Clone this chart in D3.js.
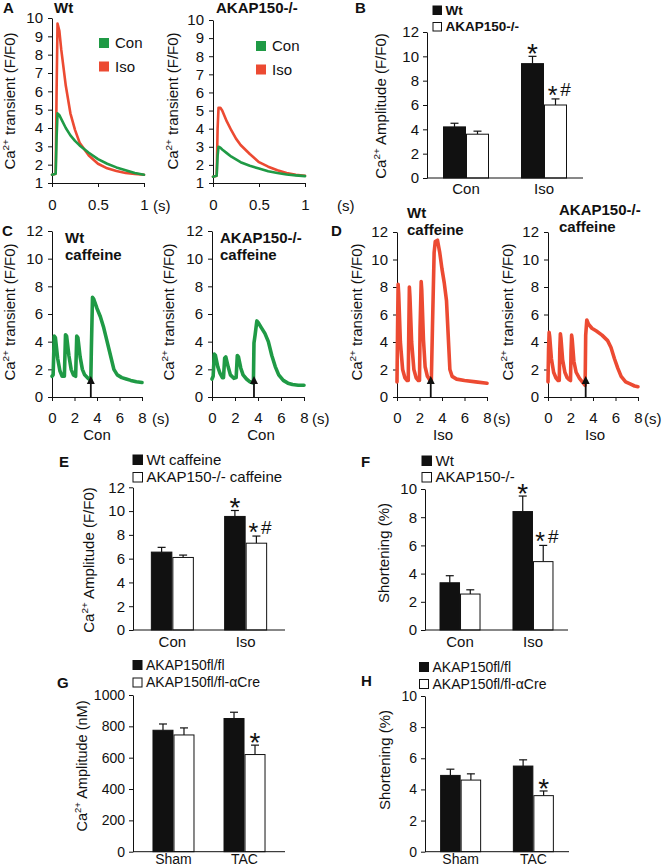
<!DOCTYPE html>
<html><head><meta charset="utf-8">
<script src="https://cdn.jsdelivr.net/npm/d3@7"></script>
<style>body{margin:0;background:#fff} text{font-family:"Liberation Sans",Arial,Helvetica,sans-serif;fill:#111}</style>
</head><body><svg id="c" width="663" height="868"></svg>
<script>
// ---------- DATA ----------
// Panel A: averaged Ca2+ transients (time in s, F/F0)
const aTime    = [0,0.04,0.05,0.06,0.08,0.1,0.15,0.2,0.25,0.3,0.4,0.5,0.6,0.7,0.8,0.9,1.0];
const aWtCon   = [1.45,1.5,3.5,4.8,4.7,4.5,4.0,3.6,3.3,3.05,2.65,2.3,2.05,1.85,1.7,1.55,1.45];
const aWtIso   = [1.45,1.5,6.0,9.7,9.3,8.3,6.3,4.8,3.9,3.2,2.5,2.05,1.8,1.65,1.55,1.5,1.45];
const aKoCon   = [1.35,1.4,2.5,3.0,2.95,2.85,2.65,2.45,2.3,2.15,1.95,1.8,1.65,1.55,1.47,1.42,1.38];
const aKoIso   = [1.35,1.4,4.0,5.15,5.15,5.0,4.4,3.9,3.45,3.1,2.6,2.15,1.9,1.7,1.55,1.45,1.4];
const aTicksX  = [0,0.5,1];
const aTicksY  = [1,2,3,4,5,6,7,8,9,10];
const aLegend  = ["Con","Iso"];

// Panel B
const bCats = ["Con","Iso"];
const bWt   = [4.2,9.4];   const bWtErr = [0.3,0.6];
const bKo   = [3.6,6.0];   const bKoErr = [0.25,0.5];
const bLegend = ["Wt","AKAP150-/-"];

// Panel C (Con, caffeine)
const cWtT = [0,0.1,0.2,0.3,0.5,0.7,0.9,1.1,1.2,1.3,1.5,1.7,1.9,2.1,2.2,2.3,2.5,2.7,2.9,3.2,3.45,3.5,3.6,3.7,4.0,4.3,4.6,4.9,5.2,5.5,5.8,6.2,6.6,7.0,7.5,8.0];
const cWtV = [1.5,1.6,4.4,4.3,2.8,1.9,1.5,1.5,4.5,4.4,3.0,2.0,1.6,1.5,4.4,4.3,2.9,2.0,1.6,1.35,1.2,3.5,7.2,7.1,6.4,5.8,5.0,4.0,3.0,2.0,1.6,1.4,1.3,1.2,1.1,1.05];
const cKoT = [0,0.1,0.2,0.3,0.5,0.7,0.9,1.0,1.1,1.2,1.4,1.6,1.9,2.1,2.2,2.3,2.5,2.7,3.0,3.3,3.6,3.65,3.75,3.9,4.0,4.3,4.6,4.9,5.2,5.5,5.8,6.2,6.6,7.0,7.5,8.0];
const cKoV = [1.3,1.5,3.1,3.0,2.2,1.7,1.4,1.4,2.8,2.9,2.2,1.6,1.35,1.4,3.0,2.9,2.1,1.6,1.3,1.1,1.0,3.9,4.5,5.5,5.4,5.0,4.6,4.0,3.0,2.2,1.6,1.2,1.0,0.9,0.85,0.85];
const cArrow = [3.45,3.65];

// Panel D (Iso, caffeine)
const dWtT = [0,0.05,0.1,0.15,0.3,0.5,0.7,0.9,1.0,1.05,1.1,1.15,1.3,1.5,1.7,1.9,2.0,2.05,2.15,2.2,2.35,2.5,2.7,2.9,3.05,3.15,3.3,3.4,3.6,3.8,4.0,4.2,4.4,4.55,4.7,4.9,5.3,6.0,7.0,8.0];
const dWtV = [1.1,5.0,8.2,7.5,4.0,2.0,1.4,1.2,1.2,5.0,8.0,7.3,4.0,2.0,1.4,1.2,1.2,5.0,8.4,7.8,4.2,2.2,1.5,1.25,1.15,5.0,10.5,11.3,11.4,10.5,9.3,8.3,7.0,4.5,2.0,1.5,1.3,1.2,1.1,1.0];
const dKoT = [0,0.05,0.1,0.15,0.3,0.5,0.7,0.9,1.0,1.05,1.1,1.15,1.3,1.5,1.7,1.9,2.0,2.05,2.1,2.15,2.3,2.5,2.8,3.1,3.3,3.35,3.45,3.6,3.9,4.3,4.8,5.3,5.6,5.9,6.2,6.5,6.9,7.3,7.7,8.0];
const dKoV = [1.1,3.5,4.7,4.4,2.8,1.8,1.4,1.2,1.2,3.5,4.6,4.3,2.7,1.8,1.4,1.25,1.2,3.4,4.5,4.2,2.6,1.8,1.35,1.05,0.85,4.5,5.6,5.3,5.0,4.8,4.5,4.1,3.6,2.8,2.1,1.5,1.1,0.95,0.8,0.75];
const dArrow = [3.0,3.35];

const cdTicksX = [0,2,4,6,8];
const cdTicksY = [0,2,4,6,8,10,12];

// Panel E
const eCats = ["Con","Iso"];
const eWt = [6.55,9.55]; const eWtErr = [0.4,0.5];
const eKo = [6.1,7.3];   const eKoErr = [0.2,0.6];
const eLegend = ["Wt caffeine","AKAP150-/- caffeine"];

// Panel F
const fCats = ["Con","Iso"];
const fWt = [3.35,8.4]; const fWtErr = [0.5,1.1];
const fKo = [2.55,4.85]; const fKoErr = [0.3,1.15];
const fLegend = ["Wt","AKAP150-/-"];

// Panel G
const gCats = ["Sham","TAC"];
const gFl  = [775,850]; const gFlErr = [40,40];
const gCre = [745,620]; const gCreErr = [45,60];
const ghLegend = ["AKAP150fl/fl","AKAP150fl/fl-\u03b1Cre"];

// Panel H
const hCats = ["Sham","TAC"];
const hFl  = [4.9,5.5]; const hFlErr = [0.4,0.4];
const hCre = [4.6,3.6]; const hCreErr = [0.4,0.3];

// ---------- DRAWING ----------
const svg = d3.select("#c");
const GREEN = "#1f9a45", RED = "#ec4a32";

function txt(x, y, s, size, opts = {}) {
  return svg.append("text").attr("x", x).attr("y", y).attr("font-size", size)
    .attr("font-weight", opts.bold ? "bold" : null)
    .attr("text-anchor", opts.anchor || "start").text(s);
}
function yLabel(x, yc, pre, sup, post, size = 15) {
  const t = svg.append("text").attr("transform", `translate(${x},${yc}) rotate(-90)`)
    .attr("text-anchor", "middle").attr("font-size", size);
  t.append("tspan").text(pre);
  if (sup) {
    t.append("tspan").attr("font-size", size * 0.66).attr("dy", -size * 0.42).text(sup);
    t.append("tspan").attr("dy", size * 0.42).text(post);
  }
}
function styleAxis(g, size) {
  g.selectAll("path,line").attr("stroke", "#111").attr("stroke-width", 1);
  g.selectAll("text").attr("font-size", size).attr("fill", "#111")
    .attr("font-family", '"Liberation Sans",Arial,sans-serif');
}
function yAxis(y, x0, ticks, size = 15, pad = 5, fmt = d3.format("d")) {
  const g = svg.append("g").attr("transform", `translate(${x0},0)`)
    .call(d3.axisLeft(y).tickValues(ticks).tickSize(4).tickPadding(pad).tickFormat(fmt).tickSizeOuter(0));
  styleAxis(g, size);
  return g;
}
function xAxisTrace(x, yPix, ticks, pad, size, unitDx) {
  const g = svg.append("g").attr("transform", `translate(0,${yPix})`)
    .call(d3.axisBottom(x).tickValues(ticks).tickSize(4).tickPadding(pad).tickSizeOuter(0).tickFormat(d => String(d)));
  styleAxis(g, size);
  const last = ticks[ticks.length - 1];
  txt(x(last) + unitDx, yPix + pad + 4 + size * 0.78, "(s)", size);
}
function trace(x, y, T, V, color, w) {
  const line = d3.line().x((d, i) => x(T[i])).y(d => y(d)).curve(d3.curveLinear);
  svg.append("path").attr("d", line(V)).attr("fill", "none").attr("stroke", color)
    .attr("stroke-width", w).attr("stroke-linejoin", "round").attr("stroke-linecap", "round");
}
function arrow(x, y, t) {
  const xp = x(t), yb = y(0);
  svg.append("line").attr("x1", xp).attr("x2", xp).attr("y1", yb).attr("y2", yb - 16)
    .attr("stroke", "#111").attr("stroke-width", 1.8);
  svg.append("path").attr("d", `M${xp - 4},${yb - 13} L${xp},${yb - 21} L${xp + 4},${yb - 13} Z`).attr("fill", "#111");
}

// --- Panel A ---
txt(3, 13, "A", 15, { bold: true });
const aPanels = [
  { x0: 52, x1: 144, yTop: 18, con: aWtCon, iso: aWtIso, title: "Wt", tx: 54, lx: 99, ly: 38, unitDx: 9, ylx: 15 },
  { x0: 213, x1: 305, yTop: 20, con: aKoCon, iso: aKoIso, title: "AKAP150-/-", tx: 216, lx: 256, ly: 41, unitDx: 32, ylx: 178 }
];
aPanels.forEach(p => {
  const x = d3.scaleLinear().domain([0, 1]).range([p.x0, p.x1]);
  const y = d3.scaleLinear().domain([1, 10]).range([183, p.yTop]);
  yAxis(y, p.x0, aTicksY, 15, 5);
  xAxisTrace(x, 183, aTicksX, 12, 15, p.unitDx);
  trace(x, y, aTime, p.iso, RED, 2.6);
  trace(x, y, aTime, p.con, GREEN, 2.6);
  txt(p.tx, 13, p.title, 15, { bold: true });
  [GREEN, RED].forEach((c, i) => {
    svg.append("rect").attr("x", p.lx).attr("y", p.ly + i * 23.5).attr("width", 10).attr("height", 10).attr("fill", c);
    txt(p.lx + 16, p.ly + i * 23.5 + 10, aLegend[i], 15);
  });
  yLabel(p.ylx, 101, "Ca", "2+", " transient (F/F0)", 15);
});

// --- Bar helper ---
function bars(o) {
  const y = d3.scaleLinear().domain(o.ydom).range([o.yBase, o.yTop]);
  const x = d3.scalePoint().domain(o.cats).range([o.ax0, o.ax1]).padding(o.pad);
  yAxis(y, o.ax0, o.yticks, o.tsize, 4, o.fmt || d3.format("d"));
  const series = [{ v: o.s1, e: o.e1, fill: "#111", dx: -o.bw }, { v: o.s2, e: o.e2, fill: "#fff", dx: 0 }];
  series.forEach(s => {
    o.cats.forEach((c, i) => {
      const bx = x(c) + s.dx;
      const top = y(s.v[i]), et = y(s.v[i] + s.e[i]);
      svg.append("line").attr("x1", bx + o.bw / 2).attr("x2", bx + o.bw / 2).attr("y1", top).attr("y2", et).attr("stroke", "#111").attr("stroke-width", 1.2);
      svg.append("line").attr("x1", bx + o.bw / 2 - 4).attr("x2", bx + o.bw / 2 + 4).attr("y1", et).attr("y2", et).attr("stroke", "#111").attr("stroke-width", 1.2);
      svg.append("rect").attr("x", bx + 0.5).attr("y", top).attr("width", o.bw - 1).attr("height", o.yBase - top)
        .attr("fill", s.fill).attr("stroke", "#111").attr("stroke-width", 1);
    });
  });
  svg.append("line").attr("x1", o.ax0).attr("x2", o.ax1).attr("y1", o.yBase).attr("y2", o.yBase).attr("stroke", "#111").attr("stroke-width", 1);
  o.cats.forEach(c => txt(x(c), o.yBase + o.catDy, c, o.csize, { anchor: "middle" }));
  // significance marks
  (o.marks || []).forEach(m => {
    const bc = x(o.cats[m.cat]) + (m.series === 0 ? -o.bw / 2 : o.bw / 2);
    const vals = m.series === 0 ? o.s1 : o.s2, errs = m.series === 0 ? o.e1 : o.e2;
    const et = y(vals[m.cat] + errs[m.cat]);
    if (m.s.length > 1) {
      const base = et + 5;
      svg.append("text").attr("x", bc - 3).attr("y", base).attr("text-anchor", "middle").attr("font-size", 25).text("*");
      svg.append("text").attr("x", bc + 10).attr("y", base - 7.5).attr("text-anchor", "middle").attr("font-size", 19).text(m.s.slice(1));
    } else {
      svg.append("text").attr("x", bc).attr("y", et + 7 + (m.dy || 0)).attr("text-anchor", "middle").attr("font-size", 28).text("*");
    }
  });
  // legend
  o.legend.forEach((l, i) => {
    svg.append("rect").attr("x", o.lx).attr("y", o.ly + i * o.lgap).attr("width", o.lsq).attr("height", o.lsq)
      .attr("fill", i === 0 ? "#111" : "#fff").attr("stroke", "#111").attr("stroke-width", 1);
    txt(o.lx + o.lsq + 4, o.ly + i * o.lgap + o.lsq, l, o.lsize, { bold: o.lbold });
  });
}

// --- Panel B ---
txt(355, 13, "B", 15, { bold: true });
bars({ cats: bCats, s1: bWt, e1: bWtErr, s2: bKo, e2: bKoErr, ydom: [0, 12], yBase: 178, yTop: 32,
  ax0: 427, ax1: 583, pad: 0.5, bw: 23, yticks: [0,2,4,6,8,10,12], tsize: 15, catDy: 16, csize: 15,
  marks: [{ cat: 1, series: 0, s: "*" }, { cat: 1, series: 1, s: "*#" }],
  legend: bLegend, lx: 433, ly: 6, lgap: 16.5, lsq: 8.5, lsize: 13.5, lbold: true });
yLabel(386, 106, "Ca", "2+", " Amplitude (F/F0)", 15);

// --- Panels C & D ---
txt(2, 236, "C", 15, { bold: true });
txt(331, 236, "D", 15, { bold: true });
const cdPanels = [
  { x0: 52, x1: 142, yTop: 231, T: cWtT, V: cWtV, col: GREEN, arrowT: cArrow[0], t1: "Wt", tx: 65, tb: 243, unitDx: 10, ylx: 15, cond: "Con", cx: 97 },
  { x0: 212, x1: 304, yTop: 231, T: cKoT, V: cKoV, col: GREEN, arrowT: cArrow[1], t1: "AKAP150-/-", tx: 220, tb: 243, unitDx: 8, ylx: 174, cond: "Con", cx: 261 },
  { x0: 397, x1: 487, yTop: 232, T: dWtT, V: dWtV, col: RED, arrowT: dArrow[0], t1: "Wt", tx: 407, tb: 218, unitDx: 6, ylx: 362, cond: "Iso", cx: 443 },
  { x0: 548, x1: 638, yTop: 232, T: dKoT, V: dKoV, col: RED, arrowT: dArrow[1], t1: "AKAP150-/-", tx: 559, tb: 215, unitDx: 6, ylx: 513, cond: "Iso", cx: 595 }
];
cdPanels.forEach(p => {
  const x = d3.scaleLinear().domain([0, 8]).range([p.x0, p.x1]);
  const y = d3.scaleLinear().domain([0, 12]).range([397, p.yTop]);
  yAxis(y, p.x0, cdTicksY, 15, 5);
  xAxisTrace(x, 397, cdTicksX, 11, 15, p.unitDx);
  trace(x, y, p.T, p.V, p.col, 3.6);
  arrow(x, y, p.arrowT);
  txt(p.tx, p.tb, p.t1, 15, { bold: true });
  txt(p.tx, p.tb + 17, "caffeine", 15, { bold: true });
  txt(p.cx, 440, p.cond, 15, { anchor: "middle" });
  yLabel(p.ylx, 312, "Ca", "2+", " transient (F/F0)", 15);
});

// --- Panel E ---
txt(59, 467, "E", 15, { bold: true });
bars({ cats: eCats, s1: eWt, e1: eWtErr, s2: eKo, e2: eKoErr, ydom: [0, 12], yBase: 630, yTop: 487.3,
  ax0: 133, ax1: 285, pad: 0.537, bw: 21.5, yticks: [0,2,4,6,8,10,12], tsize: 15, catDy: 17, csize: 15,
  marks: [{ cat: 1, series: 0, s: "*" }, { cat: 1, series: 1, s: "*#" }],
  legend: eLegend, lx: 133, ly: 455, lgap: 17.5, lsq: 9.5, lsize: 15, lbold: false });
yLabel(94, 560, "Ca", "2+", " Amplitude (F/F0)", 15);

// --- Panel F ---
txt(361, 467, "F", 15, { bold: true });
bars({ cats: fCats, s1: fWt, e1: fWtErr, s2: fKo, e2: fKoErr, ydom: [0, 10], yBase: 630, yTop: 489,
  ax0: 425, ax1: 568, pad: 0.48, bw: 20.5, yticks: [0,2,4,6,8,10], tsize: 15, catDy: 17, csize: 15,
  marks: [{ cat: 1, series: 0, s: "*" }, { cat: 1, series: 1, s: "*#" }],
  legend: fLegend, lx: 422, ly: 456, lgap: 16.5, lsq: 9.5, lsize: 15, lbold: false });
yLabel(389, 553, "Shortening (%)", null, null, 15);

// --- Panel G ---
txt(57, 688, "G", 15, { bold: true });
bars({ cats: gCats, s1: gFl, e1: gFlErr, s2: gCre, e2: gCreErr, ydom: [0, 1000], yBase: 851.7, yTop: 695,
  ax0: 133, ax1: 285, pad: 0.57, bw: 21, yticks: [0,200,400,600,800,1000], tsize: 14, catDy: 12.5, csize: 14,
  marks: [{ cat: 1, series: 1, s: "*" }],
  legend: ghLegend, lx: 133, ly: 660.5, lgap: 17.5, lsq: 9, lsize: 14, lbold: false });
yLabel(87, 766, "Ca", "2+", " Amplitude (nM)", 14.5);

// --- Panel H ---
txt(361, 686, "H", 15, { bold: true });
bars({ cats: hCats, s1: hFl, e1: hFlErr, s2: hCre, e2: hCreErr, ydom: [0, 10], yBase: 851.7, yTop: 696,
  ax0: 425, ax1: 569, pad: 0.49, bw: 20.5, yticks: [0,2,4,6,8,10], tsize: 14, catDy: 12.5, csize: 14,
  marks: [{ cat: 1, series: 1, s: "*" }],
  legend: ghLegend, lx: 419.5, ly: 662.5, lgap: 17, lsq: 9, lsize: 14, lbold: false });
yLabel(390, 760, "Shortening (%)", null, null, 15);
</script></body></html>
